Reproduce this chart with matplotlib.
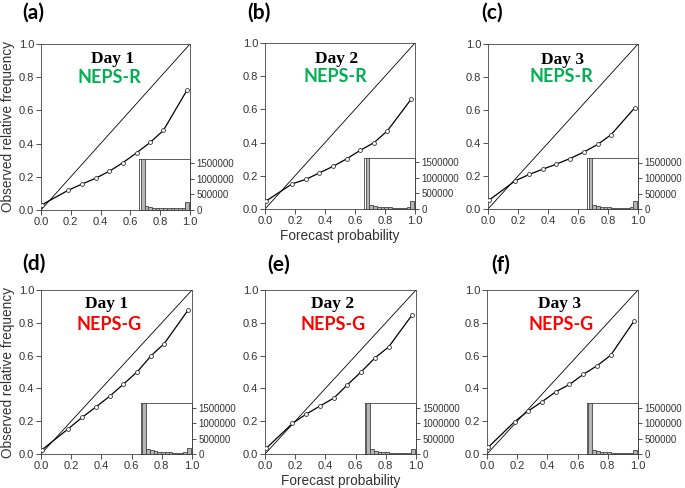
import matplotlib
matplotlib.use("Agg")
import matplotlib.pyplot as plt
import numpy as np

# ---------------- data ----------------
panel_labels = ["(a)", "(b)", "(c)", "(d)", "(e)", "(f)"]
day_labels = ["Day 1", "Day 2", "Day 3", "Day 1", "Day 2", "Day 3"]
model_labels = ["NEPS-R", "NEPS-R", "NEPS-R", "NEPS-G", "NEPS-G", "NEPS-G"]

x_a = [0.007, 0.183, 0.272, 0.366, 0.458, 0.551, 0.641, 0.734, 0.821, 0.980]
y_a = [0.032, 0.119, 0.155, 0.191, 0.233, 0.286, 0.344, 0.408, 0.479, 0.722]
x_b = [0.007, 0.180, 0.273, 0.362, 0.456, 0.544, 0.636, 0.727, 0.816, 0.973]
y_b = [0.048, 0.151, 0.179, 0.217, 0.258, 0.302, 0.354, 0.400, 0.471, 0.660]
x_c = [0.007, 0.182, 0.276, 0.367, 0.456, 0.547, 0.638, 0.731, 0.820, 0.980]
y_c = [0.054, 0.171, 0.210, 0.242, 0.272, 0.306, 0.345, 0.391, 0.450, 0.615]
x_d = [0.007, 0.181, 0.272, 0.365, 0.456, 0.546, 0.639, 0.730, 0.816, 0.976]
y_d = [0.026, 0.154, 0.223, 0.288, 0.353, 0.426, 0.503, 0.600, 0.673, 0.880]
x_e = [0.007, 0.181, 0.274, 0.365, 0.456, 0.546, 0.637, 0.728, 0.819, 0.976]
y_e = [0.034, 0.186, 0.244, 0.293, 0.341, 0.422, 0.501, 0.586, 0.653, 0.850]
x_f = [0.009, 0.184, 0.274, 0.365, 0.456, 0.546, 0.637, 0.730, 0.819, 0.976]
y_f = [0.042, 0.198, 0.263, 0.319, 0.380, 0.424, 0.485, 0.539, 0.602, 0.814]

hist_a = [2500000, 140000, 110000, 76000, 65000, 54000, 54000, 50000, 50000, 50000, 50000, 60000, 270000]
hist_b = [2500000, 130000, 95000, 70000, 60000, 50000, 50000, 45000, 45000, 45000, 45000, 55000, 270000]
hist_c = [2500000, 120000, 90000, 70000, 60000, 50000, 45000, 45000, 40000, 40000, 40000, 50000, 250000]
hist_d = [2500000, 160000, 120000, 85000, 65000, 55000, 50000, 50000, 45000, 45000, 45000, 55000, 185000]
hist_e = [2500000, 150000, 110000, 80000, 60000, 50000, 45000, 45000, 40000, 40000, 40000, 45000, 160000]
hist_f = [2500000, 140000, 100000, 75000, 60000, 50000, 45000, 40000, 40000, 35000, 35000, 40000, 140000]

xs = [x_a, x_b, x_c, x_d, x_e, x_f]
ys = [y_a, y_b, y_c, y_d, y_e, y_f]
hists = [hist_a, hist_b, hist_c, hist_d, hist_e, hist_f]

main_ticks = [0.0, 0.2, 0.4, 0.6, 0.8, 1.0]
inset_ticks = [0, 500000, 1000000, 1500000]
inset_ticklabels = ["0", "500000", "1000000", "1500000"]

# ---------------- layout / style ----------------
W, H = 685, 488
fig = plt.figure(figsize=(W / 100, H / 100), dpi=100)
plt.rcParams['font.family'] = ['Liberation Sans', 'DejaVu Sans']

# axes boxes in pixels: left, top, right, bottom
boxes = [(41, 44, 190, 210), (265, 43, 415, 209), (488, 44, 638, 209),
         (41, 290, 192, 454), (265, 290, 416, 454), (487, 290, 638, 454)]
label_pos = [(22, 3), (247, 3), (481, 3), (22, 254), (267, 255), (491, 255)]
day_pos = [(0.477, 0.91), (0.477, 0.906), (0.50, 0.906),
           (0.435, 0.915), (0.445, 0.915), (0.48, 0.915)]
model_pos = [(0.46, 0.80), (0.467, 0.80), (0.487, 0.80),
             (0.45, 0.79), (0.45, 0.79), (0.49, 0.79)]
model_colors = {"NEPS-R": "#00B050", "NEPS-G": "#FF0000"}
tick_color = "#333333"

for i in range(6):
    l, t, r, b = boxes[i]
    ax = fig.add_axes([l / W, 1 - b / H, (r - l) / W, (b - t) / H])
    ax.plot([0, 1], [0, 1], color="black", lw=0.6, zorder=2)
    ax.plot(xs[i], ys[i], color="black", lw=0.9, marker="o", ms=2.8,
            mfc="white", mec="#333333", mew=0.6, zorder=3)
    ax.set_xlim(0, 1)
    ax.set_ylim(0, 1)
    ax.set_xticks(main_ticks)
    ax.set_yticks(main_ticks)
    ax.set_xticklabels([f"{v:.1f}" for v in main_ticks])
    ax.set_yticklabels([f"{v:.1f}" for v in main_ticks])
    ax.tick_params(direction="out", length=3.5, width=0.6, labelsize=8,
                   colors=tick_color, pad=1.5)
    for s in ax.spines.values():
        s.set_linewidth(0.6)
        s.set_color("#444444")
    if i % 3 == 0:
        ax.set_ylabel("Observed relative frequency", fontsize=9.8,
                      color=tick_color, labelpad=3)
    if i % 3 == 1:
        ax.set_xlabel("Forecast probability", fontsize=9.8,
                      color=tick_color, labelpad=2)

    ax.text(day_pos[i][0], day_pos[i][1], day_labels[i], transform=ax.transAxes,
            ha="center", va="center", fontsize=12.5, fontweight="bold",
            family="Liberation Serif", color="black", zorder=5)
    ax.text(model_pos[i][0], model_pos[i][1], model_labels[i], transform=ax.transAxes,
            ha="center", va="center", fontsize=13, fontweight="bold",
            family="Lato", color=model_colors[model_labels[i]], zorder=5)

    # inset histogram
    ins = ax.inset_axes([0.66, 0.0, 0.34, 0.31])
    n = len(hists[i])
    width = (0.98 - 0.033) / n
    centers = 0.033 + width * (np.arange(n) + 0.5)
    ins.bar(centers, hists[i], width=width, color="#b5b5b5",
            edgecolor="#444444", linewidth=0.6)
    ins.set_xlim(0, 1)
    ins.set_ylim(0, 1650000)
    ins.set_xticks([])
    ins.yaxis.tick_right()
    ins.set_yticks(inset_ticks)
    ins.set_yticklabels(inset_ticklabels)
    ins.tick_params(axis="y", direction="out", length=3, width=0.6,
                    labelsize=7, colors=tick_color, pad=1.5)
    ins.patch.set_facecolor("white")
    for s in ins.spines.values():
        s.set_linewidth(0.6)
        s.set_color("#444444")

    fig.text(label_pos[i][0] / W, 1 - label_pos[i][1] / H, panel_labels[i],
             ha="left", va="top", fontsize=15, fontweight="bold", family="Lato")

fig.savefig("out.png", dpi=100)
